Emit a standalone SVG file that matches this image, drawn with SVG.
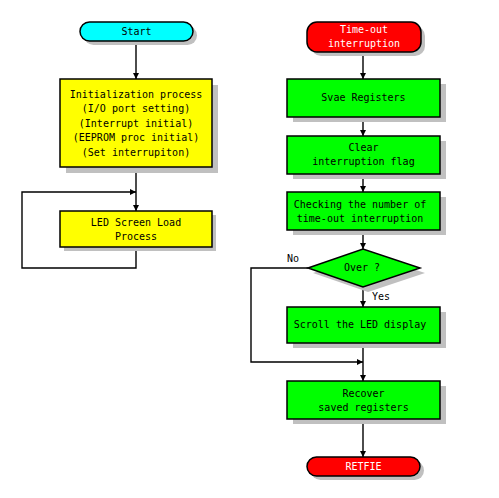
<svg xmlns="http://www.w3.org/2000/svg" width="499" height="498" viewBox="0 0 499 498">
<defs>
<marker id="ah" viewBox="0 0 6 6" markerWidth="6" markerHeight="6" refX="6" refY="3" orient="auto" markerUnits="userSpaceOnUse">
<path d="M0,0 L6,3 L0,6 Z" fill="#000"/>
</marker>
</defs>
<style>
.sh{fill:#c0c0c0}
.b{stroke:#000;stroke-width:1.5}
.y{fill:#ffff00}
.g{fill:#00ff00}
.r{fill:#ff0000}
.c{fill:#00ffff}
text{font-family:"DejaVu Sans Mono","Liberation Mono",monospace;font-size:10px;text-anchor:middle;dominant-baseline:central;fill:#000}
.w{fill:#fff}
.ln{fill:none;stroke:#000;stroke-width:1.4}
.lb{text-anchor:start}
</style>
<rect width="499" height="498" fill="#fff"/>
<g id="connectors">
<path class="ln" d="M136,41 V79" marker-end="url(#ah)"/>
<path class="ln" d="M136,167 V211" marker-end="url(#ah)"/>
<path class="ln" d="M136,247 V268 H22 V192 H136" marker-end="url(#ah)"/>
<path class="ln" d="M363,52 V79" marker-end="url(#ah)"/>
<path class="ln" d="M363,117 V136" marker-end="url(#ah)"/>
<path class="ln" d="M363,174 V192" marker-end="url(#ah)"/>
<path class="ln" d="M363,230 V249" marker-end="url(#ah)"/>
<path class="ln" d="M363,287 V307" marker-end="url(#ah)"/>
<path class="ln" d="M308,268 H251 V362 H363" marker-end="url(#ah)"/>
<path class="ln" d="M363,343 V381" marker-end="url(#ah)"/>
<path class="ln" d="M363,419 V457" marker-end="url(#ah)"/>
<text class="lb" x="287" y="258">No</text>
<text class="lb" x="372" y="296">Yes</text>
</g>
<g id="start">
<rect class="sh" x="84" y="26" width="113" height="19" rx="9.5"/>
<rect class="c b" x="80" y="22" width="113" height="19" rx="9.5"/>
<text x="136.5" y="31.5">Start</text>
</g>
<g id="init">
<rect class="sh" x="66" y="85" width="152" height="88"/>
<rect class="y b" x="60" y="79" width="152" height="88"/>
<text x="136" y="94">Initialization process</text>
<text x="136" y="108.5">(I/O port setting)</text>
<text x="136" y="123">(Interrupt initial)</text>
<text x="136" y="137.5">(EEPROM proc initial)</text>
<text x="136" y="152">(Set interrupiton)</text>
</g>
<g id="led">
<rect class="sh" x="64" y="215" width="152" height="36"/>
<rect class="y b" x="60" y="211" width="152" height="36"/>
<text x="136" y="222">LED Screen Load</text>
<text x="136" y="236">Process</text>
</g>
<g id="timeout">
<rect class="sh" x="311" y="26" width="114" height="30" rx="10"/>
<rect class="r b" x="307" y="22" width="114" height="30" rx="10"/>
<text class="w" x="364" y="29.5">Time-out</text>
<text class="w" x="364" y="43.5">interruption</text>
</g>
<g id="save">
<rect class="sh" x="293" y="84" width="153" height="38"/>
<rect class="g b" x="287" y="79" width="153" height="38"/>
<text x="363.5" y="97.5">Svae Registers</text>
</g>
<g id="clear">
<rect class="sh" x="293" y="141" width="153" height="38"/>
<rect class="g b" x="287" y="136" width="153" height="38"/>
<text x="363.5" y="147.5">Clear</text>
<text x="363.5" y="161.5">interruption flag</text>
</g>
<g id="check">
<rect class="sh" x="293" y="197" width="153" height="38"/>
<rect class="g b" x="287" y="192" width="153" height="38"/>
<text x="360" y="204">Checking the number of</text>
<text x="360" y="218">time-out interruption</text>
</g>
<g id="over">
<path class="sh" d="M313,273 L368,254 L425,273 L368,292 Z"/>
<path class="g b" d="M308,268 L363,249 L420,268 L363,287 Z"/>
<text x="362" y="267.5">Over ?</text>
</g>
<g id="scroll">
<rect class="sh" x="293" y="312" width="153" height="36"/>
<rect class="g b" x="287" y="307" width="153" height="36"/>
<text x="360" y="324.5">Scroll the LED display</text>
</g>
<g id="recover">
<rect class="sh" x="293" y="386" width="153" height="38"/>
<rect class="g b" x="287" y="381" width="153" height="38"/>
<text x="363.5" y="393.5">Recover</text>
<text x="363.5" y="407.5">saved registers</text>
</g>
<g id="retfie">
<rect class="sh" x="311" y="461" width="113" height="19" rx="9.5"/>
<rect class="r b" x="307" y="457" width="113" height="19" rx="9.5"/>
<text class="w" x="363.5" y="466.5">RETFIE</text>
</g>
</svg>
